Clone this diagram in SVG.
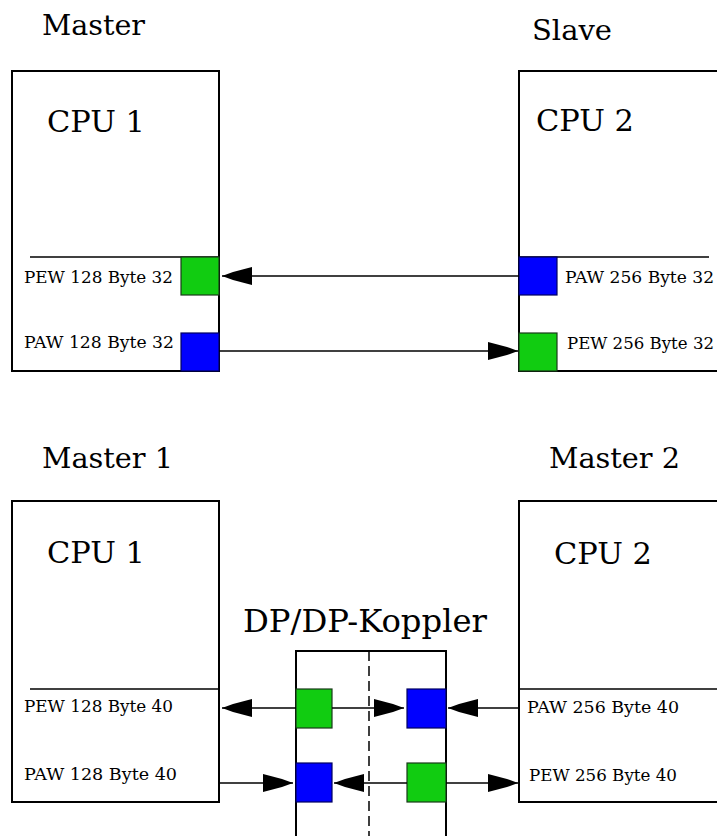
<svg xmlns="http://www.w3.org/2000/svg" width="717" height="836" viewBox="0 0 717 836">
<style>
.box{fill:none;stroke:#000;stroke-width:2}
.sep{stroke:#000;stroke-width:1.5}
.ln{stroke:#000;stroke-width:1.5;fill:none}
.g{fill:#11cc11;stroke:#1a3a1a;stroke-width:1.2}
.b{fill:#0000ff;stroke:#000060;stroke-width:1.2}
.t1,.t2,.t3,.t4{font-family:"DejaVu Serif","Liberation Serif",serif;fill:#000}
.t1{font-size:27px}
.t2{font-size:30px}
.t3{font-size:16px}
.t4{font-size:31px}
</style>
<defs>
<marker id="ah" viewBox="0 0 30 18" refX="30" refY="9" markerWidth="30" markerHeight="18" markerUnits="userSpaceOnUse" orient="auto">
<path d="M0,0 L19,5 L30,9 L19,13 L0,18 Z" fill="#000"/>
</marker>
</defs>
<rect width="717" height="836" fill="#fff"/>

<!-- Top section -->
<text class="t1" x="42" y="35" textLength="103" lengthAdjust="spacingAndGlyphs">Master</text>
<text class="t1" x="532" y="40" textLength="80" lengthAdjust="spacingAndGlyphs">Slave</text>

<g id="cpu1-top">
<rect class="box" x="12" y="71" width="207" height="300"/>
<text class="t2" x="47" y="132" textLength="98" lengthAdjust="spacingAndGlyphs">CPU 1</text>
<line class="sep" x1="30" y1="257" x2="219" y2="257"/>
<text class="t3" x="24" y="283" textLength="149" lengthAdjust="spacingAndGlyphs">PEW 128 Byte 32</text>
<text class="t3" x="24" y="348" textLength="150" lengthAdjust="spacingAndGlyphs">PAW 128 Byte 32</text>
<rect class="g" x="181" y="257" width="38" height="38"/>
<rect class="b" x="181" y="333" width="38" height="38"/>
</g>

<g id="cpu2-top">
<rect class="box" x="519" y="71" width="230" height="300"/>
<text class="t2" x="536" y="131" textLength="98" lengthAdjust="spacingAndGlyphs">CPU 2</text>
<line class="sep" x1="519" y1="257" x2="709" y2="257"/>
<text class="t3" x="565" y="283" textLength="149" lengthAdjust="spacingAndGlyphs">PAW 256 Byte 32</text>
<text class="t3" x="567" y="349" textLength="147" lengthAdjust="spacingAndGlyphs">PEW 256 Byte 32</text>
<rect class="b" x="519" y="257" width="38" height="38"/>
<rect class="g" x="519" y="333" width="38" height="38"/>
</g>

<!-- Bottom section -->
<text class="t1" x="42" y="468" textLength="131" lengthAdjust="spacingAndGlyphs">Master 1</text>
<text class="t1" x="549" y="468" textLength="131" lengthAdjust="spacingAndGlyphs">Master 2</text>

<g id="cpu1-bottom">
<rect class="box" x="12" y="501" width="207" height="301"/>
<text class="t2" x="47" y="563" textLength="98" lengthAdjust="spacingAndGlyphs">CPU 1</text>
<line class="sep" x1="30" y1="689" x2="219" y2="689"/>
<text class="t3" x="24" y="712" textLength="149" lengthAdjust="spacingAndGlyphs">PEW 128 Byte 40</text>
<text class="t3" x="24" y="780" textLength="153" lengthAdjust="spacingAndGlyphs">PAW 128 Byte 40</text>
</g>

<g id="cpu2-bottom">
<rect class="box" x="519" y="501" width="230" height="301"/>
<text class="t2" x="554" y="564" textLength="98" lengthAdjust="spacingAndGlyphs">CPU 2</text>
<line class="sep" x1="519" y1="689" x2="717" y2="689"/>
<text class="t3" x="527" y="713" textLength="152" lengthAdjust="spacingAndGlyphs">PAW 256 Byte 40</text>
<text class="t3" x="529" y="781" textLength="148" lengthAdjust="spacingAndGlyphs">PEW 256 Byte 40</text>
</g>

<g id="koppler">
<text class="t4" x="243" y="632" textLength="244" lengthAdjust="spacingAndGlyphs">DP/DP-Koppler</text>
<path class="box" d="M296,840 L296,651 L446,651 L446,840"/>
<line x1="369" y1="651" x2="369" y2="836" stroke="#000" stroke-width="1.5" stroke-dasharray="10 5"/>
<rect class="g" x="296" y="689" width="36" height="39"/>
<rect class="b" x="407" y="689" width="39" height="39"/>
<rect class="b" x="296" y="763" width="36" height="39"/>
<rect class="g" x="407" y="763" width="39" height="39"/>
</g>

<g id="connectors">
<line class="ln" x1="519" y1="276" x2="222" y2="276" marker-end="url(#ah)"/>
<line class="ln" x1="219" y1="351" x2="518" y2="351" marker-end="url(#ah)"/>
<line class="ln" x1="296" y1="708" x2="222" y2="708" marker-end="url(#ah)"/>
<line class="ln" x1="332" y1="708" x2="404" y2="708" marker-end="url(#ah)"/>
<line class="ln" x1="519" y1="708" x2="448" y2="708" marker-end="url(#ah)"/>
<line class="ln" x1="219" y1="783" x2="293" y2="783" marker-end="url(#ah)"/>
<line class="ln" x1="407" y1="783" x2="334" y2="783" marker-end="url(#ah)"/>
<line class="ln" x1="446" y1="783" x2="518" y2="783" marker-end="url(#ah)"/>
</g>
</svg>
